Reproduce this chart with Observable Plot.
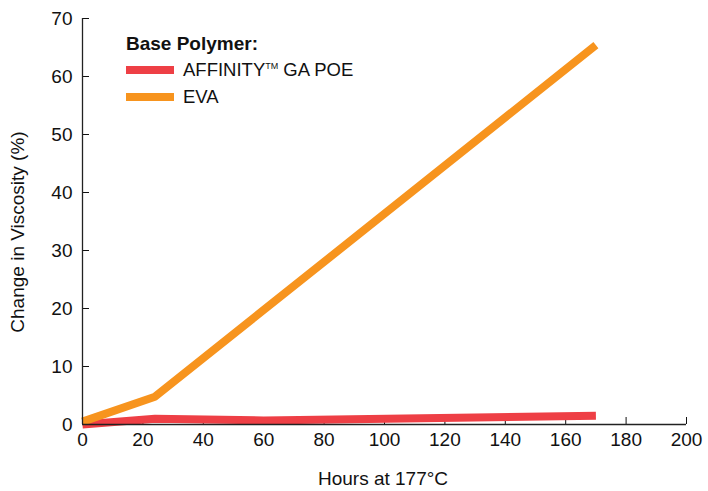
<!DOCTYPE html>
<html><head><meta charset="utf-8">
<script src="https://cdn.jsdelivr.net/npm/d3@7"></script>
<script src="https://cdn.jsdelivr.net/npm/@observablehq/plot@0.6"></script>
<style>
body{margin:0;background:#fff;font-family:"Liberation Sans",Arial,sans-serif;}
#wrap{position:relative;width:708px;height:491px;}
#legend{position:absolute;left:126px;top:32px;font-size:18.5px;color:#111;}
#legend .t{font-weight:bold;font-size:19px;height:24px;line-height:24px}
#legend .r{display:flex;align-items:center;height:27px}
#legend .sw{width:48px;height:8px;margin-right:9px}
#legend sup{font-size:9px;vertical-align:top;position:relative;top:2px}
#ytitle{position:absolute;left:18px;top:232px;transform:translate(-50%,-50%) rotate(-90deg);white-space:nowrap;font-size:19px;color:#111}
#xtitle{position:absolute;left:383px;top:479px;transform:translate(-50%,-50%);white-space:nowrap;font-size:19px;color:#111}
</style></head><body>
<div id="wrap"></div>
<script>
const seriesNames = ["AFFINITY™ GA POE", "EVA"];
const seriesColors = ["#ee3f45", "#f7941e"];
const hours = [0, 24, 60, 170];
const affinity = [0.0, 1.0, 0.7, 1.5];
const evaValues = [0.5, 4.8, null, 65.4];
const xTicks = [0,20,40,60,80,100,120,140,160,180,200];
const yTicks = [0,10,20,30,40,50,60,70];
const xTitle = "Hours at 177°C";
const yTitle = "Change in Viscosity (%)";

const data = [];
hours.forEach((h,i)=>{ if (affinity[i]!=null) data.push({series: seriesNames[0], h, v: affinity[i]}); });
hours.forEach((h,i)=>{ if (evaValues[i]!=null) data.push({series: seriesNames[1], h, v: evaValues[i]}); });

const chart = Plot.plot({
  width: 708, height: 491,
  marginLeft: 82, marginRight: 22, marginTop: 18, marginBottom: 67,
  style: {fontFamily: "Liberation Sans, Arial, sans-serif", fontSize: "19px", color: "#111", background: "#fff"},
  x: {domain: [0, 200], ticks: xTicks},
  y: {domain: [0, 70], ticks: yTicks},
  color: {domain: seriesNames, range: seriesColors},
  marks: [
    Plot.axisX({ticks: xTicks, tickSize: -7, tickPadding: 15, label: null, fontSize: 19}),
    Plot.axisY({ticks: yTicks, tickSize: -7, tickPadding: 17, label: null, fontSize: 19}),
    Plot.line(data, {x: "h", y: "v", stroke: "series", strokeWidth: 8, strokeLinecap: "butt", strokeLinejoin: "miter"}),
    Plot.ruleX([0], {stroke: "#222", strokeWidth: 1.3}),
    Plot.ruleY([0], {stroke: "#222", strokeWidth: 1.3})
  ]
});
const wrap = document.getElementById("wrap");
wrap.appendChild(chart);

const lg = document.createElement("div");
lg.id = "legend";
lg.innerHTML = `<div class="t">Base Polymer:</div>` + seriesNames.map((n,i)=>
  `<div class="r"><span class="sw" style="background:${seriesColors[i]}"></span><span>${n.replace("™","<sup>TM</sup>")}</span></div>`).join("");
wrap.appendChild(lg);

const yt = document.createElement("div"); yt.id = "ytitle"; yt.textContent = yTitle; wrap.appendChild(yt);
const xt = document.createElement("div"); xt.id = "xtitle"; xt.textContent = xTitle; wrap.appendChild(xt);
</script>
</body></html>
